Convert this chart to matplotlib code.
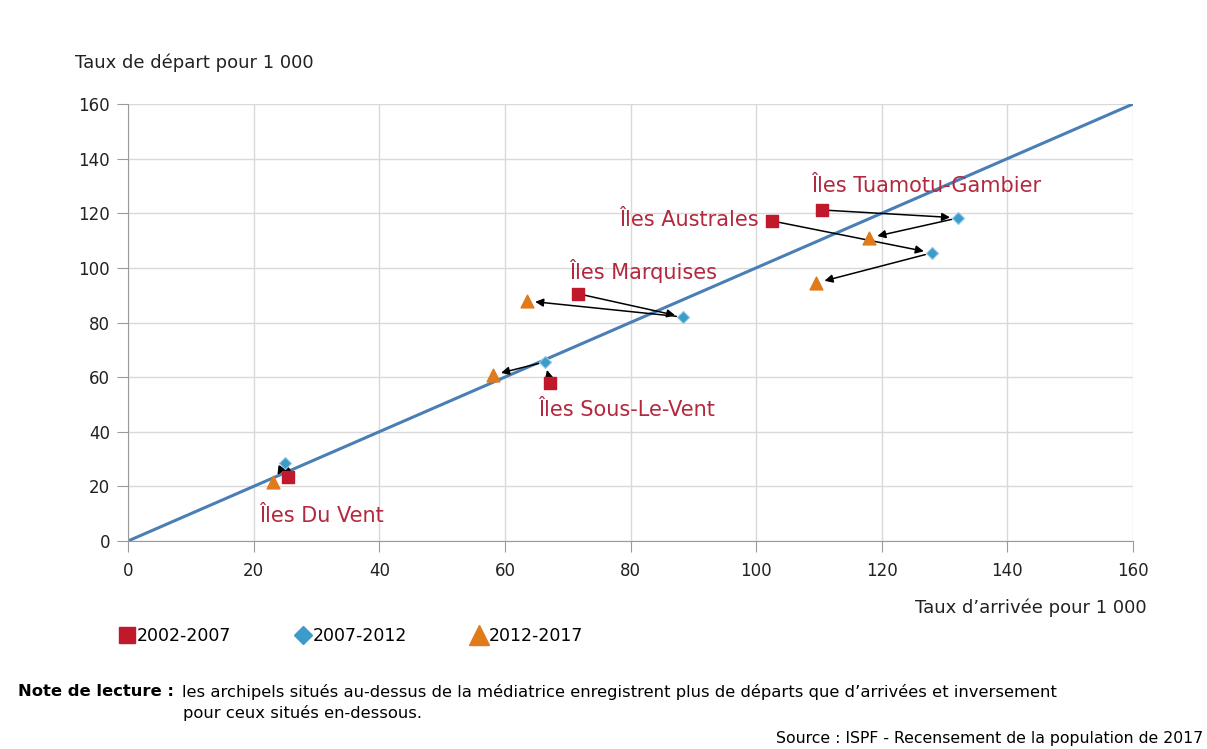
import numpy as np
from matplotlib import pyplot as plt
from matplotlib.lines import Line2D

# data: (arrivals, departures) per 1 000
archipels = ["Îles Tuamotu-Gambier", "Îles Australes", "Îles Marquises",
             "Îles Sous-Le-Vent", "Îles Du Vent"]
periods = ["2002-2007", "2007-2012", "2012-2017"]

arr_0207 = [110.5, 102.5, 71.7, 67.2, 25.5]
dep_0207 = [121.2, 117.2, 90.5, 57.9, 23.4]
arr_0712 = [132.2, 128.0, 88.4, 66.4, 25.0]
dep_0712 = [118.3, 105.5, 82.0, 65.6, 28.6]
arr_1217 = [118.0, 109.6, 63.5, 58.1, 23.1]
dep_1217 = [111.0, 94.5, 87.9, 60.8, 21.6]

# label anchor points (in data units)
label_x = [127.0, 100.4, 82.0, 79.4, 30.8]
label_y = [130.0, 117.5, 99.0, 48.0, 9.0]
label_ha = ["center", "right", "center", "center", "center"]

RED = "#c0192b"
BLUE = "#3d9bc9"
ORANGE = "#e07a1b"
LABEL = "#b3283e"

plt.rcParams['font.family'] = ['DejaVu Sans']

fig = plt.figure(figsize=(12.07, 7.49), dpi=100)
ax = fig.add_axes([128/1207, 1 - 541/749, (1133 - 128)/1207, (541 - 104)/749])

# mediatrice
ax.plot([0, 160], [0, 160], color="#4a7fb5", lw=2.2, zorder=2)

# arrows: 2002-2007 -> 2007-2012 -> 2012-2017
for i in range(len(archipels)):
	ax.annotate("", xy=(arr_0712[i], dep_0712[i]), xytext=(arr_0207[i], dep_0207[i]),
		arrowprops=dict(arrowstyle="-|>", color="black", lw=1.1, mutation_scale=12,
			shrinkA=5, shrinkB=6), zorder=3)
	ax.annotate("", xy=(arr_1217[i], dep_1217[i]), xytext=(arr_0712[i], dep_0712[i]),
		arrowprops=dict(arrowstyle="-|>", color="black", lw=1.1, mutation_scale=12,
			shrinkA=5, shrinkB=6), zorder=3)

ax.scatter(arr_0207, dep_0207, marker="s", s=65, color=RED, zorder=4)
ax.scatter(arr_0712, dep_0712, marker="D", s=38, color=BLUE, edgecolor="#8fcbe6", lw=0.8, zorder=4)
ax.scatter(arr_1217, dep_1217, marker="^", s=85, color=ORANGE, zorder=4)

for name, lx, ly, ha in zip(archipels, label_x, label_y, label_ha):
	ax.text(lx, ly, name, color=LABEL, fontsize=15, ha=ha, va="center", zorder=5)

ax.set_xlim(0, 160)
ax.set_ylim(0, 160)
ax.set_xticks(np.arange(0, 161, 20))
ax.set_yticks(np.arange(0, 161, 20))
ax.grid(True, color="#d9d9d9", lw=1)
ax.set_axisbelow(True)
for side in ["top", "right"]:
	ax.spines[side].set_visible(False)
for side in ["left", "bottom"]:
	ax.spines[side].set_color("#9a9a9a")
ax.tick_params(colors="#9a9a9a", labelcolor="#222222", labelsize=12, length=8)
ax.tick_params(axis="x", pad=7)
ax.tick_params(axis="y", pad=5)

fig.text(75/1207, 1 - 63/749, "Taux de départ pour 1 000", fontsize=13, va="center", color="#222222")
fig.text(1147/1207, 1 - 608/749, "Taux d\u2019arrivée pour 1 000", fontsize=13, va="center", ha="right", color="#222222")

handles = [
	Line2D([], [], marker="s", ls="", color=RED, markersize=11),
	Line2D([], [], marker="D", ls="", color=BLUE, markersize=9),
	Line2D([], [], marker="^", ls="", color=ORANGE, markersize=14),
]
fig.legend(handles, periods, loc="center left", bbox_to_anchor=(118/1207, 1 - 636/749), ncol=3,
	frameon=False, fontsize=12.5, handletextpad=0.1, columnspacing=3.6, handlelength=1.0,
	borderpad=0, borderaxespad=0)

fig.text(18/1207, 1 - 692/749, "Note de lecture :", fontsize=11.8, fontweight="bold", va="center")
fig.text(182/1207, 1 - 692/749,
	"les archipels situés au-dessus de la médiatrice enregistrent plus de départs que d\u2019arrivées et inversement",
	fontsize=11.8, va="center")
fig.text(183/1207, 1 - 713/749, "pour ceux situés en-dessous.", fontsize=11.8, va="center")
fig.text(1203/1207, 1 - 738/749, "Source : ISPF - Recensement de la population de 2017",
	fontsize=11.3, va="center", ha="right")

fig.savefig("out.png", dpi=100)
